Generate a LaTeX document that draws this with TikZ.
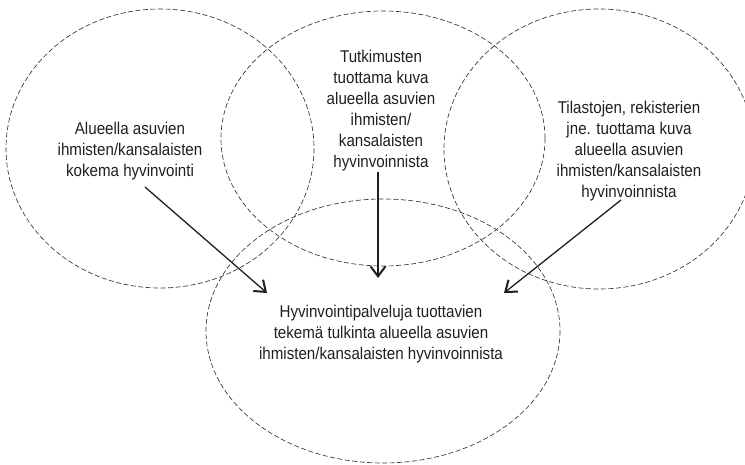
\documentclass[tikz,border=0pt]{standalone}
\usepackage{fontspec}
\setmainfont{Liberation Sans}[FakeStretch=0.89]
\usetikzlibrary{arrows.meta}
\begin{document}
\begin{tikzpicture}[x=1pt,y=-1pt,
  ring/.style={draw=black!80, line width=0.65pt, dash pattern=on 5pt off 2.5pt},
  label/.style={align=center, text=black!88, inner sep=0pt,
    font=\fontsize{17}{21}\selectfont},
  link/.style={draw=black!88, line width=1.3pt,
    -{Straight Barb[length=10pt,width=15pt,line width=2pt]}}]
\useasboundingbox (0,0) rectangle (745,465);
\clip (0,0) rectangle (745,465);
% ellipses
\draw[ring] (160,148.5) ellipse [x radius=154, y radius=139.5];
\draw[ring] (383,138.5) ellipse [x radius=162, y radius=127.5];
\draw[ring] (599,149) ellipse [x radius=155, y radius=140];
\draw[ring] (383,331) ellipse [x radius=177, y radius=132];
% texts
\node[label] (lt) at (130,151) {Alueella asuvien\\ihmisten/kansalaisten\\kokema hyvinvointi};
\node[label] (mt) at (381,111) {Tutkimusten\\tuottama kuva\\alueella asuvien\\ihmisten/\\kansalaisten\\hyvinvoinnista};
\node[label] (rt) at (629,151) {Tilastojen, rekisterien\\jne. tuottama kuva\\alueella asuvien\\ihmisten/kansalaisten\\hyvinvoinnista};
\node[label] (bt) at (381,334) {Hyvinvointipalveluja tuottavien\\tekemä tulkinta alueella asuvien\\ihmisten/kansalaisten hyvinvoinnista};
% arrow ends
\coordinate (la) at (145,187);
\coordinate (lb) at (267,293);
\coordinate (ma) at (378,172);
\coordinate (mb) at (378,278);
\coordinate (ra) at (621,200);
\coordinate (rb) at (504,293);
\draw[link] (la) -- (lb);
\draw[link] (ma) -- (mb);
\draw[link] (ra) -- (rb);
\end{tikzpicture}
\end{document}
